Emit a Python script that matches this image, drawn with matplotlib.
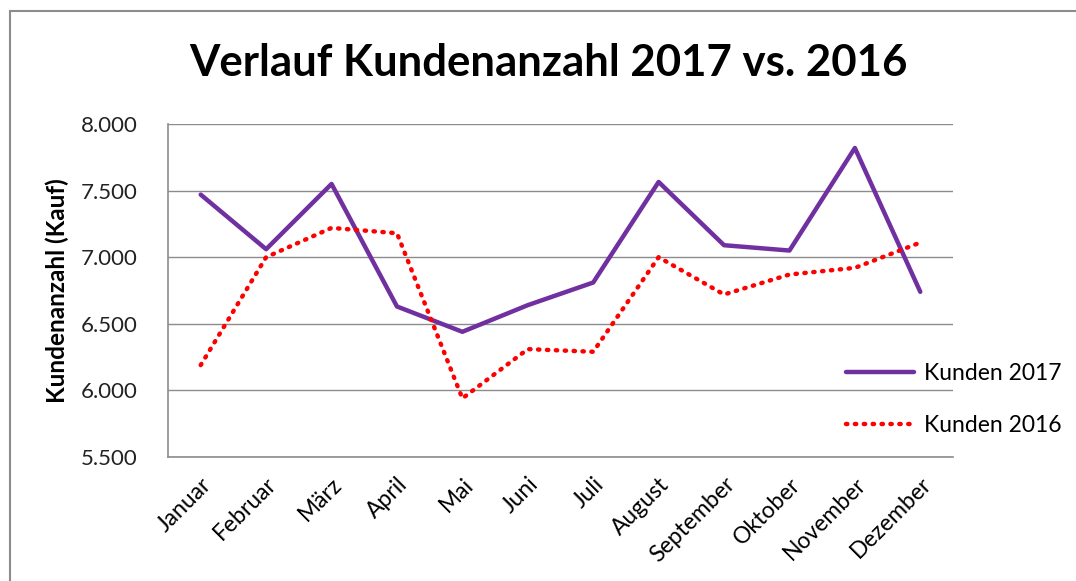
import matplotlib
matplotlib.use("Agg")
from matplotlib import pyplot as plt
from matplotlib.patches import Rectangle
from matplotlib.ticker import FuncFormatter

plt.rcParams['font.family'] = ['Lato', 'DejaVu Sans']

months = ["Januar", "Februar", "März", "April", "Mai", "Juni", "Juli",
          "August", "September", "Oktober", "November", "Dezember"]
kunden_2017 = [7470, 7060, 7550, 6630, 6440, 6640, 6810, 7565, 7090, 7050, 7820, 6740]
kunden_2016 = [6190, 7000, 7220, 7180, 5940, 6310, 6290, 7000, 6720, 6870, 6920, 7110]
y_ticks = [5500, 6000, 6500, 7000, 7500, 8000]

fig = plt.figure(figsize=(10.76, 5.81), dpi=100)
# outer chart frame
fig.patches.append(Rectangle((10 / 1076, -0.05), 1.2, 1 - 11 / 581 + 0.05,
                             transform=fig.transFigure, fill=False,
                             edgecolor="#8c8c8c", linewidth=1.5))

ax = fig.add_axes([168 / 1076, 1 - 457 / 581, (953 - 168) / 1076, (457 - 124) / 581])

x = range(len(months))
ax.plot(x, kunden_2017, color="#7030a0", linewidth=3.2, label="Kunden 2017",
        solid_capstyle="round")
ax.plot(x, kunden_2016, color="#ff0000", linewidth=3.2, linestyle=(0, (0.3, 1.7)),
        dash_capstyle="round", label="Kunden 2016")

ax.set_xlim(-0.5, len(months) - 0.5)
ax.set_ylim(5500, 8000)
ax.set_yticks(y_ticks)
ax.yaxis.set_major_formatter(FuncFormatter(lambda v, p: f"{int(v):,}".replace(",", ".")))
ax.grid(axis="y", color="#8c8c8c", linewidth=1)
ax.set_axisbelow(True)
ax.tick_params(axis="y", length=0, labelsize=16, pad=22, labelcolor="#222222")
ax.tick_params(axis="x", length=0, labelsize=16.5, pad=12)
ax.set_xticks(list(x))
ax.set_xticklabels(months, rotation=45, ha="right", rotation_mode="anchor")

for s in ["top", "right"]:
    ax.spines[s].set_visible(False)
for s in ["left", "bottom"]:
    ax.spines[s].set_color("#8c8c8c")
    ax.spines[s].set_linewidth(1.2)

ax.set_ylabel("Kundenanzahl (Kauf)", fontsize=17.5, fontweight="bold", labelpad=8)

fig.text(548 / 1076, 1 - 63 / 581, "Verlauf Kundenanzahl 2017 vs. 2016",
         ha="center", va="center", fontsize=31.5, fontweight="bold")

ax.legend(loc="upper left", bbox_to_anchor=(0.837, 0.345), frameon=False,
          fontsize=16.5, handlelength=3.0, labelspacing=1.35, handletextpad=0.4)

fig.savefig("out.png", dpi=100)
